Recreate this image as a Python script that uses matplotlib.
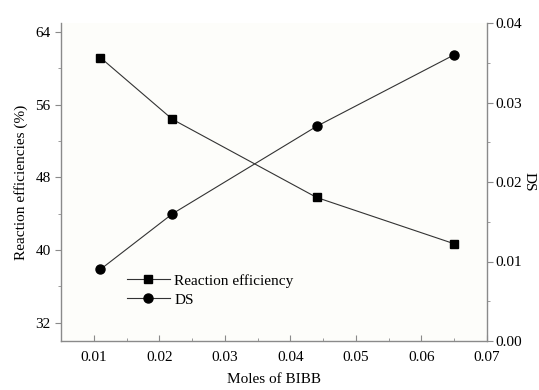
import matplotlib
matplotlib.use('Agg')
import matplotlib.pyplot as plt
from matplotlib.ticker import MultipleLocator

#### DATA ####
moles = [0.011, 0.022, 0.044, 0.065]
efficiency = [61.2, 54.4, 45.8, 40.7]
ds = [0.009, 0.016, 0.027, 0.036]

plt.rcParams['font.family'] = ['Liberation Serif', 'DejaVu Serif']
plt.rcParams['font.size'] = 11

dpi = 100
fig = plt.figure(figsize=(539/dpi, 390/dpi), dpi=dpi)
fig.patch.set_facecolor('white')
ax = fig.add_axes([61/539, 1 - 341/390, (487-61)/539, (341-23)/390])
ax.set_facecolor('#fdfdfa')
ax2 = ax.twinx()

spineColor = '#8a8a8a'

l1, = ax.plot(moles, efficiency, color='#333333', lw=0.8, marker='s', ms=6,
              mfc='black', mec='black', label='Reaction efficiency')
l2, = ax2.plot(moles, ds, color='#333333', lw=0.8, marker='o', ms=6.5,
               mfc='black', mec='black', label='DS')

ax.set_xlim(0.005, 0.07)
ax.set_ylim(30, 65)
ax2.set_ylim(0, 0.04)

ax.xaxis.set_minor_locator(MultipleLocator(0.005))
ax.set_xticks([0.01, 0.02, 0.03, 0.04, 0.05, 0.06, 0.07])
ax.set_xticklabels(['0.01', '0.02', '0.03', '0.04', '0.05', '0.06', '0.07'])
ax.set_yticks([32, 40, 48, 56, 64])
ax.yaxis.set_minor_locator(MultipleLocator(4))
ax2.set_yticks([0.0, 0.01, 0.02, 0.03, 0.04])
ax2.set_yticklabels(['0.00', '0.01', '0.02', '0.03', '0.04'])
ax2.yaxis.set_minor_locator(MultipleLocator(0.005))

for a in (ax, ax2):
    a.spines['top'].set_visible(False)
    for s in ('left', 'right', 'bottom'):
        a.spines[s].set_color(spineColor)
        a.spines[s].set_linewidth(1.0)
ax.spines['right'].set_visible(False)
ax2.spines['left'].set_visible(False)
ax2.spines['bottom'].set_visible(False)

ax.tick_params(axis='x', direction='in', length=4, color=spineColor, labelsize=11, pad=7)
ax.tick_params(axis='x', which='minor', direction='in', length=2.5, color=spineColor)
ax.tick_params(axis='y', direction='out', length=4, color=spineColor, labelsize=11)
ax.tick_params(axis='y', which='minor', direction='out', length=2.5, color=spineColor)
ax2.tick_params(axis='y', direction='out', length=4, color=spineColor, labelsize=11, pad=2)
ax2.tick_params(axis='y', which='minor', direction='out', length=2.5, color=spineColor)

ax.set_xlabel('Moles of BIBB', fontsize=11, labelpad=7)
ax.set_ylabel('Reaction efficiencies (%)', fontsize=11, labelpad=5)
ax2.set_ylabel('DS', fontsize=11, rotation=270, labelpad=10)

ax.legend(handles=[l1, l2], loc='upper left', bbox_to_anchor=(0.14, 0.23),
          frameon=False, fontsize=11, handlelength=2.8, handletextpad=0.3,
          labelspacing=0.35, borderaxespad=0)

fig.savefig('out.png', dpi=dpi)
